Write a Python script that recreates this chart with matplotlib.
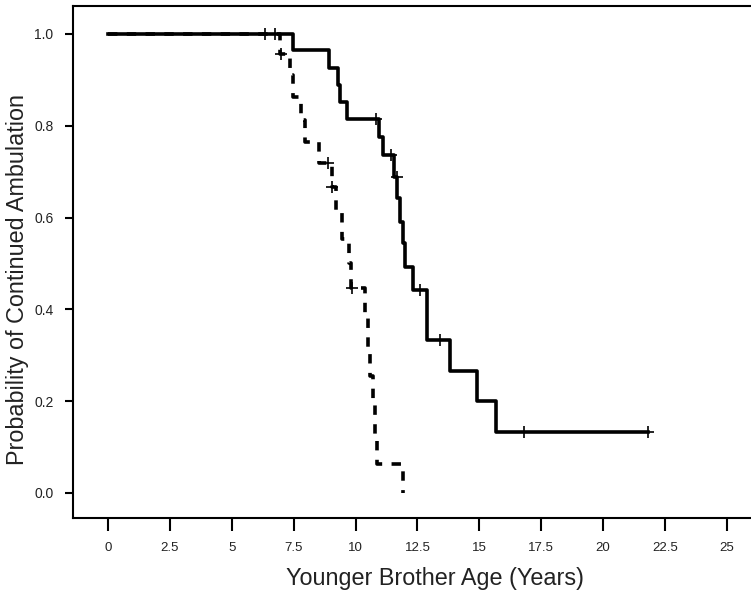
import matplotlib
matplotlib.use("Agg")
import matplotlib.pyplot as plt

# solid curve: step times (years) and survival after each step
solid_t = [0, 7.47, 8.93, 9.30, 9.36, 9.64, 10.94, 11.12, 11.55, 11.67, 11.80,
           11.90, 12.00, 12.33, 12.87, 13.81, 14.89, 15.66, 21.80]
solid_p = [1.0, 0.965, 0.927, 0.889, 0.852, 0.815, 0.776, 0.737, 0.689, 0.643, 0.591,
           0.544, 0.492, 0.443, 0.333, 0.266, 0.200, 0.133, 0.133]
# solid curve censored points
solid_ct = [6.34, 6.75, 10.82, 11.44, 11.66, 12.60, 13.41, 16.80, 21.80]
solid_cp = [1.0, 1.0, 0.815, 0.737, 0.689, 0.443, 0.333, 0.133, 0.133]

# dashed curve
dash_t = [0, 6.96, 7.35, 7.46, 7.78, 7.96, 8.53, 9.03, 9.20, 9.45, 9.75, 9.80,
          10.38, 10.50, 10.60, 10.72, 10.78, 10.88, 11.92]
dash_p = [1.0, 0.956, 0.911, 0.862, 0.813, 0.765, 0.719, 0.666, 0.610, 0.553, 0.500, 0.446,
          0.381, 0.318, 0.254, 0.191, 0.127, 0.0635, 0.0]
dash_ct = [7.00, 8.90, 9.07, 9.85]
dash_cp = [0.956, 0.719, 0.666, 0.446]

x_ticks = [0, 2.5, 5, 7.5, 10, 12.5, 15, 17.5, 20, 22.5, 25]
x_labels = ['0', '2.5', '5', '7.5', '10', '12.5', '15', '17.5', '20', '22.5', '25']
y_ticks = [0.0, 0.2, 0.4, 0.6, 0.8, 1.0]
y_labels = ['0.0', '0.2', '0.4', '0.6', '0.8', '1.0']

plt.rcParams['font.family'] = ['Liberation Sans', 'DejaVu Sans']

fig = plt.figure(figsize=(7.51, 5.95), dpi=100)
# the plot frame runs past the right edge of the image
ax = fig.add_axes([73 / 751, 77 / 595, 724 / 751, 512 / 595])

ax.step(solid_t, solid_p, where='post', color='black', lw=2.6)
ax.step(dash_t, dash_p, where='post', color='black', lw=2.6, linestyle=(0, (2.6, 2.6)))
ax.plot(solid_ct, solid_cp, '+', color='black', ms=9, mew=1.2)
ax.plot(dash_ct, dash_cp, '+', color='black', ms=9, mew=1.2)

ax.set_xlim(-1.41, 27.83)
ax.set_ylim(-0.0545, 1.061)

ax.set_xticks(x_ticks)
ax.set_xticklabels(x_labels, fontsize=9.5, color='#222222')
ax.set_yticks(y_ticks)
ax.set_yticklabels(y_labels, fontsize=10, color='#222222')
ax.tick_params(axis='x', direction='out', length=9, width=1.5, pad=8)
ax.tick_params(axis='y', direction='out', length=6, width=1.5, pad=8)

ax.spines['right'].set_visible(False)
for s in ['left', 'bottom', 'top']:
    ax.spines[s].set_linewidth(1.5)

ax.set_xlabel('Younger Brother Age (Years)', fontsize=16.8, color='#222222', labelpad=10)
ax.set_ylabel('Probability of Continued Ambulation', fontsize=16.8, color='#222222')
ax.yaxis.set_label_coords(-0.061, 0.465)

plt.savefig('out.png', dpi=100)
